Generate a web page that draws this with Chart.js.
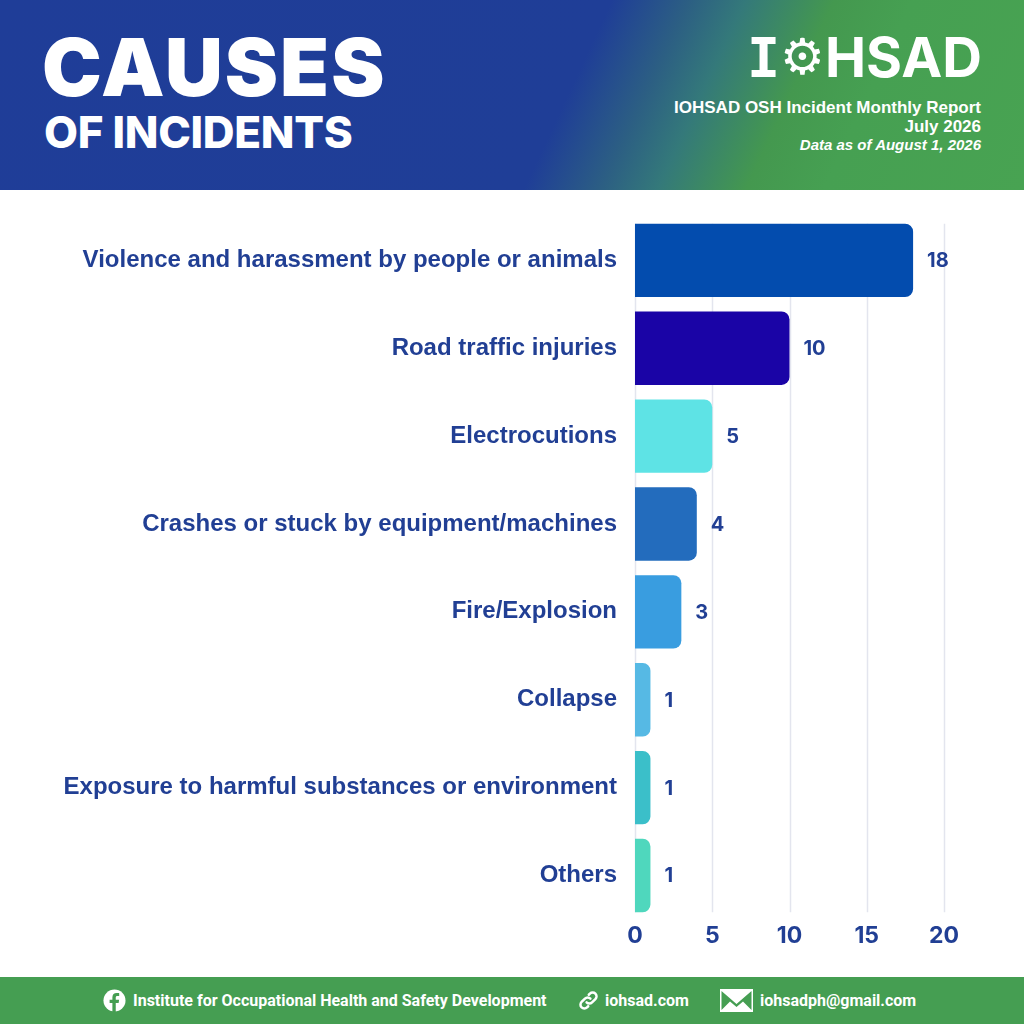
<!DOCTYPE html>
<html>
<head>
<meta charset="utf-8">
<script src="https://cdn.jsdelivr.net/npm/chart.js@4.4.1/dist/chart.umd.min.js"></script>
<style>
  html, body { margin:0; padding:0; }
  body { width:1024px; height:1024px; position:relative; overflow:hidden; background:#ffffff; font-family: Inter, "Liberation Sans", sans-serif; }
  #header { position:absolute; left:0; top:0; width:1024px; height:190px;
    background: linear-gradient(115deg, #1f3d98 0%, #1f3e97 55%, #2c5f83 62%, #34797a 67%, #44984f 75%, #46a052 82%, #48a352 100%); }
  #t1 { position:absolute; left:42px; top:27px; font-family: Inter, sans-serif; font-weight:900; font-size:80px; color:#fff; letter-spacing:2px; line-height:1; }
  #t2 { position:absolute; left:44px; top:110px; font-family: Inter, sans-serif; font-weight:800; font-size:44px; color:#fff; line-height:1; letter-spacing:-0.3px; }
  #logo { position:absolute; right:42px; top:30px; color:#fff; font-size:55px; line-height:1; white-space:nowrap; }
  #logo .i { font-family: "DejaVu Sans Mono", monospace; font-weight:bold; }
  #logo .g { font-family: "DejaVu Sans", sans-serif; font-weight:bold; font-size:50px; position:relative; top:-3px; }
  #logo .h { font-family: Inter, sans-serif; font-weight:700; }
  #sub { position:absolute; right:43px; top:99px; color:#fff; text-align:right; font-family:"Liberation Sans", Arial, sans-serif; font-weight:bold; font-size:17px; line-height:18.5px; }
  #sub .it { font-style:italic; font-weight:bold; font-size:15px; }
  #footer { position:absolute; left:0; top:977px; width:1024px; height:47px; background:#459e52; color:#fff;
    font-family:"Liberation Sans Narrow", Roboto, sans-serif; font-weight:bold; font-size:16px; }
  #footer span { position:absolute; top:14px; white-space:nowrap; }
  #footer svg { position:absolute; }
  #chartwrap { position:absolute; left:0; top:192px; width:1024px; height:770px; }
</style>
</head>
<body>
<div id="header">
  <div id="t1">CAUSES</div>
  <div id="t2">OF INCIDENTS</div>
  <div id="logo"><span class="i">I</span><span class="g">⚙</span><span class="h">HSAD</span></div>
  <div id="sub">IOHSAD OSH Incident Monthly Report<br>July 2026<br><span class="it">Data as of August 1, 2026</span></div>
</div>
<div id="chartwrap"><canvas id="c" width="1024" height="770"></canvas></div>
<div id="footer">
  <svg style="left:103px;top:12px" width="23" height="23" viewBox="0 0 24 24">
    <circle cx="12" cy="12" r="11.5" fill="#fff"/>
    <path d="M13.3 24 V14.6 h3 l0.5 -3.4 h-3.5 V9.1 c0 -1 0.4 -1.700 1.8 -1.7 h1.8 V4.4 c-0.4 -0.1 -1.5 -0.2 -2.7 -0.2 c-2.7 0 -4.4 1.6 -4.4 4.5 v2.5 H6.9 v3.4 h2.9 V24 Z" fill="#459e52"/>
  </svg>
  <span style="left:133px;">Institute for Occupational Health and Safety Development</span>
  <svg style="left:577px;top:11px" width="23" height="25" viewBox="0 0 24 24" fill="none" stroke="#fff" stroke-width="2.6" stroke-linecap="round">
    <path d="M10 14 a4 4 0 0 0 5.7 0 l3.5 -3.5 a4 4 0 0 0 -5.7 -5.7 l-1.2 1.2"/>
    <path d="M14 10 a4 4 0 0 0 -5.7 0 l-3.5 3.5 a4 4 0 0 0 5.7 5.7 l1.2 -1.2"/>
  </svg>
  <span style="left:605px;">iohsad.com</span>
  <svg style="left:720px;top:12px" width="33" height="23" viewBox="0 0 33 23">
    <rect x="0" y="0" width="33" height="23" fill="#fff"/>
    <path d="M1.5 2 L16.5 15 L31.5 2 L31.5 21 L23 12.5 L16.5 18 L10 12.5 L1.5 21 Z" fill="#459e52"/>
  </svg>
  <span style="left:760px;">iohsadph@gmail.com</span>
</div>
<script>
const categories = [
  "Violence and harassment by people or animals",
  "Road traffic injuries",
  "Electrocutions",
  "Crashes or stuck by equipment/machines",
  "Fire/Explosion",
  "Collapse",
  "Exposure to harmful substances or environment",
  "Others"
];
const incidents = [18, 10, 5, 4, 3, 1, 1, 1];
const barColors = ["#034cae", "#1a04a6", "#5ee3e5", "#236cbd", "#399de0", "#56b9e4", "#3bbfc9", "#4fd7bd"];
const xTicks = [0, 5, 10, 15, 20];

const TEXT = "#213f94";

const gridPlugin = {
  id: 'trimGrid',
  beforeDatasetsDraw(chart) {
    const meta = chart.getDatasetMeta(0);
    const xs = chart.scales.x;
    const first = meta.data[0], last = meta.data[meta.data.length - 1];
    const top = first.y - first.height / 2;
    const bottom = last.y + last.height / 2;
    const ctx = chart.ctx;
    ctx.save();
    ctx.strokeStyle = "#e3e5ee";
    ctx.lineWidth = 1.5;
    xTicks.forEach(v => {
      const px = Math.round(xs.getPixelForValue(v)) + 0.5;
      ctx.beginPath(); ctx.moveTo(px, top); ctx.lineTo(px, bottom); ctx.stroke();
    });
    ctx.restore();
  }
};
const valuePlugin = {
  id: 'values',
  afterDatasetsDraw(chart) {
    const meta = chart.getDatasetMeta(0);
    const ctx = chart.ctx;
    ctx.save();
    ctx.fillStyle = TEXT;
    ctx.font = "700 20px Inter";
    ctx.textAlign = "left";
    ctx.textBaseline = "middle";
    meta.data.forEach((bar, i) => {
      ctx.fillText(String(incidents[i]), bar.x + 14, bar.y + 1);
    });
    ctx.restore();
  }
};

new Chart(document.getElementById('c'), {
  type: 'bar',
  data: {
    labels: categories,
    datasets: [{
      data: incidents,
      backgroundColor: barColors,
      borderRadius: 8,
      borderSkipped: 'start',
      barPercentage: 0.835,
      categoryPercentage: 1.0
    }]
  },
  options: {
    indexAxis: 'y',
    responsive: false,
    animation: false,
    devicePixelRatio: 1,
    layout: { padding: { left: 0, right: 80, top: 19, bottom: 17 } },
    plugins: { legend: { display: false }, tooltip: { enabled: false } },
    scales: {
      x: {
        min: 0, max: 20,
        afterBuildTicks(scale) { scale.ticks = xTicks.map(v => ({ value: v })); },
        grid: { display: false },
        border: { display: false },
        ticks: { color: TEXT, font: { family: 'Inter', weight: '700', size: 23 }, padding: -5 }
      },
      y: {
        afterFit(scale) { scale.width = 635; },
        grid: { display: false },
        border: { display: false },
        ticks: { color: TEXT, font: { family: 'Liberation Sans', weight: 'bold', size: 24 }, padding: 10 }
      }
    }
  },
  plugins: [gridPlugin, valuePlugin]
});
</script>
</body>
</html>
